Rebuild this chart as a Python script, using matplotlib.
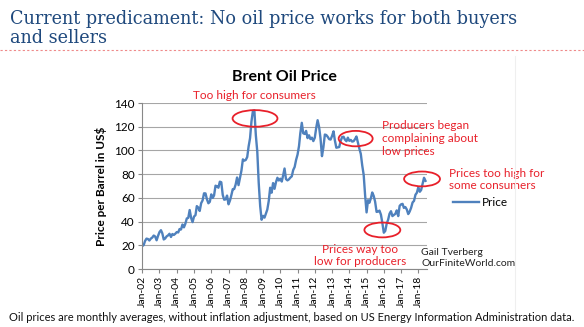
import numpy as np
import pandas as pd
import matplotlib
matplotlib.use("Agg")
import matplotlib.pyplot as plt
import matplotlib.dates as mdates
from matplotlib.patches import Ellipse
from matplotlib.lines import Line2D

# Brent monthly average price, US$ per barrel (Jan 2002 - Jun 2018)
price_2002 = [19.4, 20.3, 23.7, 25.7, 25.4, 24.1, 25.7, 26.6, 28.3, 27.5, 24.3, 28.0]
price_2003 = [31.2, 32.8, 30.3, 25.0, 25.8, 27.6, 28.4, 29.8, 27.1, 29.6, 28.8, 29.8]
price_2004 = [31.2, 30.9, 33.8, 33.4, 37.6, 35.2, 38.2, 42.7, 43.2, 49.8, 43.1, 39.6]
price_2005 = [44.3, 45.5, 53.1, 51.9, 49.0, 55.6, 57.9, 63.9, 63.8, 58.9, 55.5, 56.7]
price_2006 = [63.0, 60.0, 62.1, 70.3, 69.8, 68.6, 73.7, 73.2, 62.5, 58.5, 58.8, 62.0]
price_2007 = [54.6, 57.8, 62.1, 67.4, 67.5, 71.3, 77.2, 70.8, 77.1, 82.9, 92.5, 91.4]
price_2008 = [92.0, 94.5, 103.3, 110.4, 124.6, 133.5, 133.9, 113.0, 99.0, 72.8, 53.2, 41.6]
price_2009 = [44.9, 43.4, 46.5, 50.2, 57.3, 68.6, 64.4, 72.5, 67.7, 73.2, 77.0, 74.7]
price_2010 = [76.2, 73.8, 78.8, 84.8, 75.9, 74.8, 75.6, 77.1, 78.2, 83.5, 86.1, 92.0]
price_2011 = [96.5, 103.7, 114.6, 123.3, 114.5, 113.9, 116.5, 110.4, 112.8, 109.6, 110.8, 107.9]
price_2012 = [110.7, 119.3, 125.5, 119.8, 110.3, 95.2, 102.6, 113.4, 113.0, 111.5, 109.5, 109.2]
price_2013 = [112.3, 116.1, 108.5, 102.3, 102.6, 102.9, 107.9, 111.3, 111.6, 109.1, 107.8, 110.8]
price_2014 = [108.1, 108.9, 107.5, 107.8, 109.5, 111.8, 106.8, 101.6, 97.1, 87.4, 79.4, 62.3]
price_2015 = [47.8, 58.1, 55.9, 59.5, 64.6, 61.7, 56.8, 48.2, 48.5, 49.3, 45.9, 38.9]
price_2016 = [30.7, 32.2, 38.2, 41.6, 46.7, 48.8, 44.7, 45.7, 46.6, 49.5, 44.7, 53.3]
price_2017 = [54.6, 55.0, 51.6, 52.3, 50.3, 46.4, 48.5, 51.7, 56.2, 57.5, 62.7, 64.4]
price_2018 = [69.1, 65.2, 66.7, 71.8, 77.0, 74.4]

prices = (price_2002 + price_2003 + price_2004 + price_2005 + price_2006 + price_2007 +
          price_2008 + price_2009 + price_2010 + price_2011 + price_2012 + price_2013 +
          price_2014 + price_2015 + price_2016 + price_2017 + price_2018)
months = pd.date_range("2002-01-01", periods=len(prices), freq="MS")

y_ticks = [0, 20, 40, 60, 80, 100, 120, 140]

LINE_BLUE = "#4F81BD"
RED = "#E8202A"
TITLE_BLUE = "#1F497D"
SANS = ["Lato", "DejaVu Sans"]

fig = plt.figure(figsize=(5.84, 3.27), dpi=100)
fig.patch.set_facecolor("white")

# slide heading
fig.text(0.017, 0.968, "Current predicament: No oil price works for both buyers\nand sellers",
         ha="left", va="top", family="DejaVu Serif", fontsize=12.7, color=TITLE_BLUE,
         linespacing=1.05)
fig.add_artist(Line2D([0, 1], [0.847, 0.847], color="#EE8A8A", lw=0.8, ls=(0, (2, 2))))
fig.add_artist(Line2D([0.882, 0.882], [0.03, 0.83], color="#EFEFEF", lw=0.8))

ax = fig.add_axes([0.243, 0.177, 0.488, 0.508])
ax.plot(months, prices, color=LINE_BLUE, lw=1.7, label="Price", solid_joinstyle="round")

ax.set_ylim(0, 140)
ax.set_yticks(y_ticks)
ax.set_xlim(pd.Timestamp("2001-12-25"), pd.Timestamp("2018-07-01"))
ax.xaxis.set_major_locator(mdates.YearLocator())
ax.xaxis.set_major_formatter(mdates.DateFormatter("Jan-%y"))
for lab in ax.get_xticklabels():
    lab.set_rotation(90)
ax.tick_params(axis="x", labelsize=7.5, length=3, color="#888888", pad=2)
ax.tick_params(axis="y", labelsize=8.5, length=3, color="#888888", pad=2)
for lab in ax.get_xticklabels() + ax.get_yticklabels():
    lab.set_family(SANS)
ax.grid(axis="y", color="#A6A6A6", lw=0.8)
ax.set_axisbelow(True)
for side in ["top", "right"]:
    ax.spines[side].set_visible(False)
for side in ["left", "bottom"]:
    ax.spines[side].set_color("#888888")
    ax.spines[side].set_linewidth(0.8)

ax.set_title("Brent Oil Price", family=SANS, fontsize=11.5, fontweight="bold", pad=16)
ax.set_ylabel("Price per Barrel in US$", family=SANS, fontsize=8.5, fontweight="bold", labelpad=5)

ax.legend(loc="center left", bbox_to_anchor=(1.055, 0.40), frameon=False,
          prop={"family": SANS, "size": 8.5}, handlelength=2.2, handletextpad=0.2)

# red callouts: ellipse centre (date, price), size (days, price)
callouts = [
    ("2008-07-15", 127, 950, 14),
    ("2014-05-15", 110, 720, 13),
    ("2018-03-20", 76, 760, 12.5),
    ("2015-12-01", 33, 760, 12.5),
]
for date, val, w, h in callouts:
    ax.add_patch(Ellipse((mdates.date2num(pd.Timestamp(date)), val), w, h,
                         fill=False, edgecolor=RED, lw=1.3, clip_on=False, zorder=5))

notes = [
    ("2008-07-01", 146, "Too high for consumers", "center"),
    ("2015-11-15", 110, "Producers began\ncomplaining about\nlow prices", "left"),
    ("2019-10-15", 75.5, "Prices too high for\nsome consumers", "left"),
]
for date, val, txt, ha in notes:
    ax.text(pd.Timestamp(date), val, txt, ha=ha, va="center", color=RED,
            family=SANS, fontsize=8.5, linespacing=1.2, clip_on=False)
ax.text(pd.Timestamp("2014-08-15"), 11.5, "Prices way too\nlow for producers", ha="center",
        va="center", color=RED, family=SANS, fontsize=8.5, linespacing=1.2)
ax.text(pd.Timestamp("2018-03-01"), 9.5, "Gail Tverberg\nOurFiniteWorld.com", ha="left",
        va="center", color="#222222", family=SANS, fontsize=7.5, linespacing=1.25, clip_on=False)

fig.text(0.5, 0.028, "Oil prices are monthly averages, without inflation adjustment, based on "
         "US Energy Information Administration data.", ha="center", va="center",
         family=SANS, fontsize=8.0, color="#111111")

fig.savefig("out.png", dpi=100, facecolor="white")
